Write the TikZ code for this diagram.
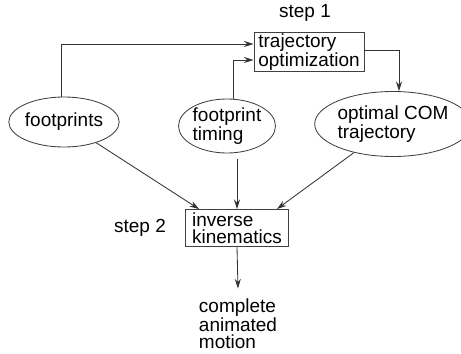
\documentclass[tikz,border=0pt]{standalone}
\usepackage{fontspec}
\setmainfont{Liberation Sans}
\usetikzlibrary{shapes.geometric}
\usetikzlibrary{positioning, arrows.meta}

\tikzset{
  txt/.style={font=\fontsize{13.5}{12}\selectfont, align=left, inner sep=0pt},
  stepbox/.style={txt, draw=black!75, line width=0.6pt, rectangle},
  oval/.style={txt, draw=black!75, line width=0.6pt, ellipse},
  flow/.style={draw=black!80, line width=0.6pt, -{Stealth[length=2.4mm,width=1.5mm]}}
}

\begin{document}
\begin{tikzpicture}
\useasboundingbox (0,0) rectangle (11.525,8.825);

\node[txt] (s1) at (7.625, 8.5) {step 1};
\node[stepbox, minimum width=2.75cm, minimum height=0.975cm] (topt) at (7.725, 7.525) {trajectory\\optimization};

\node[oval, minimum width=2.625cm, minimum height=1.25cm] (foot) at (1.6, 5.775) {footprints};
\node[oval, minimum width=2.225cm, minimum height=1.35cm] (tim) at (5.675, 5.675) {footprint\\timing};
\node[oval, minimum width=3.325cm, minimum height=1.625cm] (com) at (9.825, 5.725) {optimal COM\\trajectory};

\node[stepbox, minimum width=2.575cm, minimum height=0.925cm] (ik) at (5.925, 3.125) {inverse\\kinematics};
\node[txt] (s2) at (3.5, 3.125) {step 2};
\node[txt] (done) at (5.95, 0.73) {complete\\animated\\motion};

\draw[flow] ([xshift=-0.075cm]foot.north) |- ([yshift=0.2cm]topt.west);
\draw[flow] ([xshift=0.15cm]tim.north) |- ([yshift=-0.2cm]topt.west);
\draw[flow] ([yshift=0.05cm]topt.east) -| ([xshift=0.15cm]com.north);

\draw[flow] (foot) -- ([xshift=0.35cm]ik.north west);
\draw[flow] (ik.north |- tim.south) ++(0,-0.15) -- (ik.north);
\draw[flow] (com) -- ([xshift=-0.3cm]ik.north east);
\draw[flow] (ik.south) -- ([yshift=0.25cm]done.north);

\end{tikzpicture}
\end{document}
